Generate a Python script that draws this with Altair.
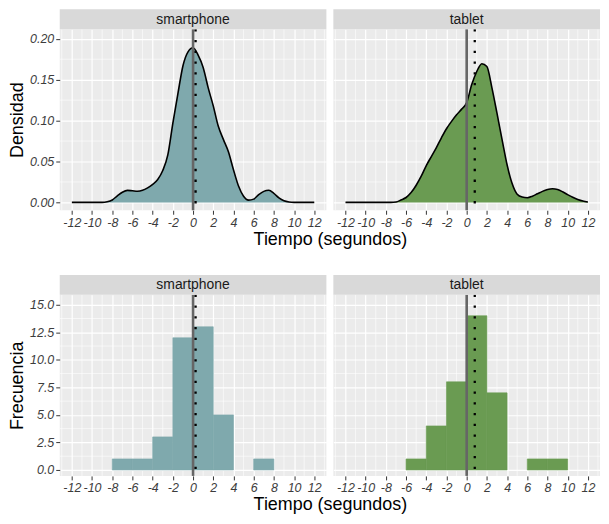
import altair as alt
import pandas as pd

# ---------------- data ----------------
devices = ["smartphone", "tablet"]

smart_dens_x = [-12, -9.0, -8.5, -8.0, -7.5, -7.0, -6.5, -6.0, -5.5, -5.0, -4.5, -4.0,
                -3.5, -3.0, -2.5, -2.0, -1.5, -1.0, -0.5, 0.0, 0.5, 1.0, 1.5, 2.0,
                2.5, 3.0, 3.5, 4.0, 4.5, 5.0, 5.5, 6.0, 6.5, 7.0, 7.5, 8.0, 8.5,
                9.0, 9.5, 10.0, 12]
smart_dens_y = [0, 0, 0.0008, 0.003, 0.008, 0.0125, 0.0147, 0.0142, 0.0137, 0.0148,
                0.0178, 0.022, 0.028, 0.039, 0.058, 0.097, 0.133, 0.167, 0.184, 0.189,
                0.180, 0.165, 0.140, 0.118, 0.093, 0.077, 0.062, 0.040, 0.020, 0.0075,
                0.0028, 0.004, 0.0095, 0.0135, 0.0148, 0.011, 0.0055, 0.002, 0.0005, 0, 0]

tab_dens_x = [-12, -7.5, -7.0, -6.5, -6.0, -5.5, -5.0, -4.5, -4.0, -3.5, -3.0, -2.5,
              -2.0, -1.5, -1.0, -0.5, 0.0, 0.5, 1.0, 1.5, 2.0, 2.5, 3.0, 3.5, 4.0,
              4.5, 5.0, 5.5, 6.0, 6.5, 7.0, 7.5, 8.0, 8.5, 9.0, 9.5, 10.0, 10.5,
              11.0, 11.5, 12.0]
tab_dens_y = [0, 0, 0.0005, 0.003, 0.006, 0.012, 0.021, 0.032, 0.045, 0.056, 0.067,
              0.079, 0.090, 0.099, 0.107, 0.114, 0.122, 0.144, 0.160, 0.1695, 0.166,
              0.140, 0.109, 0.077, 0.046, 0.023, 0.010, 0.0065, 0.0057, 0.0075, 0.0105,
              0.0135, 0.0157, 0.0166, 0.0157, 0.013, 0.0095, 0.0062, 0.0035, 0.0016,
              0.0006]

smart_bin_start = [-8, -6, -4, -2, 0, 2, 6]
smart_counts = [1, 1, 3, 12, 13, 5, 1]
tab_bin_start = [-6, -4, -2, 0, 2, 6, 8]
tab_counts = [1, 4, 8, 14, 7, 1, 1]
bin_width = 2

mean_values = [0.25, 0.8]   # dotted lines (smartphone, tablet)
zero_line = [0]

x_major = [-12, -10, -8, -6, -4, -2, 0, 2, 4, 6, 8, 10, 12]
x_minor = [-13, -11, -9, -7, -5, -3, -1, 1, 3, 5, 7, 9, 11, 13]
dens_y_major = [0.0, 0.05, 0.10, 0.15, 0.20]
dens_y_minor = [0.025, 0.075, 0.125, 0.175]
hist_y_major = [0.0, 2.5, 5.0, 7.5, 10.0, 12.5, 15.0]
hist_y_minor = [1.25, 3.75, 6.25, 8.75, 11.25, 13.75]

X_DOMAIN = [-13.2, 13.2]
DENS_DOMAIN = [-0.0096, 0.2117]
HIST_DOMAIN = [-0.54, 15.9]

FILL = {"smartphone": "#7FA9AD", "tablet": "#6A9B52"}
W, H, STRIP = 268, 182, 20
FONT = "Liberation Sans"
LABEL_COLOR = "#3C3C3C"


def make_panel(device, kind, show_y):
    idx = devices.index(device)
    fill = FILL[device]
    xs = alt.Scale(domain=X_DOMAIN, nice=False, zero=False)
    if kind == "dens":
        ys = alt.Scale(domain=DENS_DOMAIN, nice=False, zero=False)
        ymaj, ymin, fmt, ytitle = dens_y_major, dens_y_minor, ".2f", "Densidad"
    else:
        ys = alt.Scale(domain=HIST_DOMAIN, nice=False, zero=False)
        ymaj, ymin, fmt, ytitle = hist_y_major, hist_y_minor, ".1f", "Frecuencia"

    xaxis = alt.Axis(values=x_major, title=None, grid=True, gridColor="white",
                     gridWidth=1.2, domain=False, labelFontStyle="italic",
                     labelFontSize=12.5, labelColor=LABEL_COLOR, tickColor="#333333",
                     tickSize=4, labelPadding=2, labelFont=FONT, labelOverlap=False,
                     labelExpr="'' + datum.value")
    yaxis_kw = dict(values=ymaj, format=fmt, grid=True, gridColor="white", gridWidth=1.2,
                    domain=False, labelFontStyle="italic", labelFontSize=12.5,
                    labelColor=LABEL_COLOR, tickColor="#333333", tickSize=4,
                    labelPadding=2, labelFont=FONT, labelOverlap=False)
    if show_y:
        yaxis = alt.Axis(title=ytitle, titleFontSize=18, titleFontWeight="normal",
                         titleColor="black", titlePadding=3, titleFont=FONT, **yaxis_kw)
    else:
        yaxis_kw.update(labels=False, ticks=False)
        yaxis = alt.Axis(title=None, **yaxis_kw)

    minor_x = alt.Chart(pd.DataFrame({"v": x_minor})).mark_rule(
        color="white", strokeWidth=0.6).encode(x=alt.X("v:Q", scale=xs, axis=xaxis))
    minor_y = alt.Chart(pd.DataFrame({"v": ymin})).mark_rule(
        color="white", strokeWidth=0.6).encode(y=alt.Y("v:Q", scale=ys, axis=yaxis))

    if kind == "dens":
        xs_vals = smart_dens_x if idx == 0 else tab_dens_x
        ys_vals = smart_dens_y if idx == 0 else tab_dens_y
        df = pd.DataFrame({"x": xs_vals, "d": ys_vals})
        main = alt.Chart(df).mark_area(
            color=fill, opacity=1, interpolate="monotone",
            line={"color": "black", "strokeWidth": 1.6}).encode(
            x=alt.X("x:Q", scale=xs, axis=xaxis),
            y=alt.Y("d:Q", scale=ys, axis=yaxis),
            y2=alt.datum(0))
    else:
        starts = smart_bin_start if idx == 0 else tab_bin_start
        counts = smart_counts if idx == 0 else tab_counts
        df = pd.DataFrame({"start": starts, "count": counts})
        df["end"] = df["start"] + bin_width
        main = alt.Chart(df).mark_rect(color=fill, stroke=fill, strokeWidth=0.6).encode(
            x=alt.X("start:Q", scale=xs, axis=xaxis),
            x2="end:Q",
            y=alt.Y("count:Q", scale=ys, axis=yaxis),
            y2=alt.datum(0))

    zero = alt.Chart(pd.DataFrame({"v": zero_line})).mark_rule(
        color="#666666", strokeWidth=2.6).encode(x=alt.X("v:Q", scale=xs, axis=xaxis))
    mean = alt.Chart(pd.DataFrame({"v": [mean_values[idx]]})).mark_rule(
        color="black", strokeWidth=2.3, strokeDash=[2.3, 8.5]).encode(
        x=alt.X("v:Q", scale=xs, axis=xaxis))

    strip_df = pd.DataFrame({"label": [device]})
    strip = alt.Chart(strip_df).mark_rect(color="#D9D9D9").encode(
        x=alt.value(0), x2=alt.value(W), y=alt.value(-STRIP), y2=alt.value(0))
    strip_text = alt.Chart(strip_df).mark_text(
        fontSize=14, color="#1A1A1A", baseline="middle", font=FONT).encode(
        x=alt.value(W / 2), y=alt.value(-STRIP / 2 + 0.5), text="label:N")

    return alt.layer(minor_x, minor_y, main, zero, mean, strip, strip_text).properties(
        width=W, height=H)


def row(kind):
    return alt.hconcat(
        make_panel("smartphone", kind, True),
        make_panel("tablet", kind, False),
        spacing=5,
    ).properties(title=alt.TitleParams(
        "Tiempo (segundos)", orient="bottom", anchor="middle", fontSize=18,
        fontWeight="normal", color="black", offset=2, font=FONT, frame="bounds",
        dx=26))


chart = alt.vconcat(row("dens"), row("hist"), spacing=26).properties(padding=0)
chart = chart.configure(font=FONT).configure_view(fill="#EBEBEB", stroke=None)

chart.save("out.html", embed_options={"renderer": "svg", "actions": False})
